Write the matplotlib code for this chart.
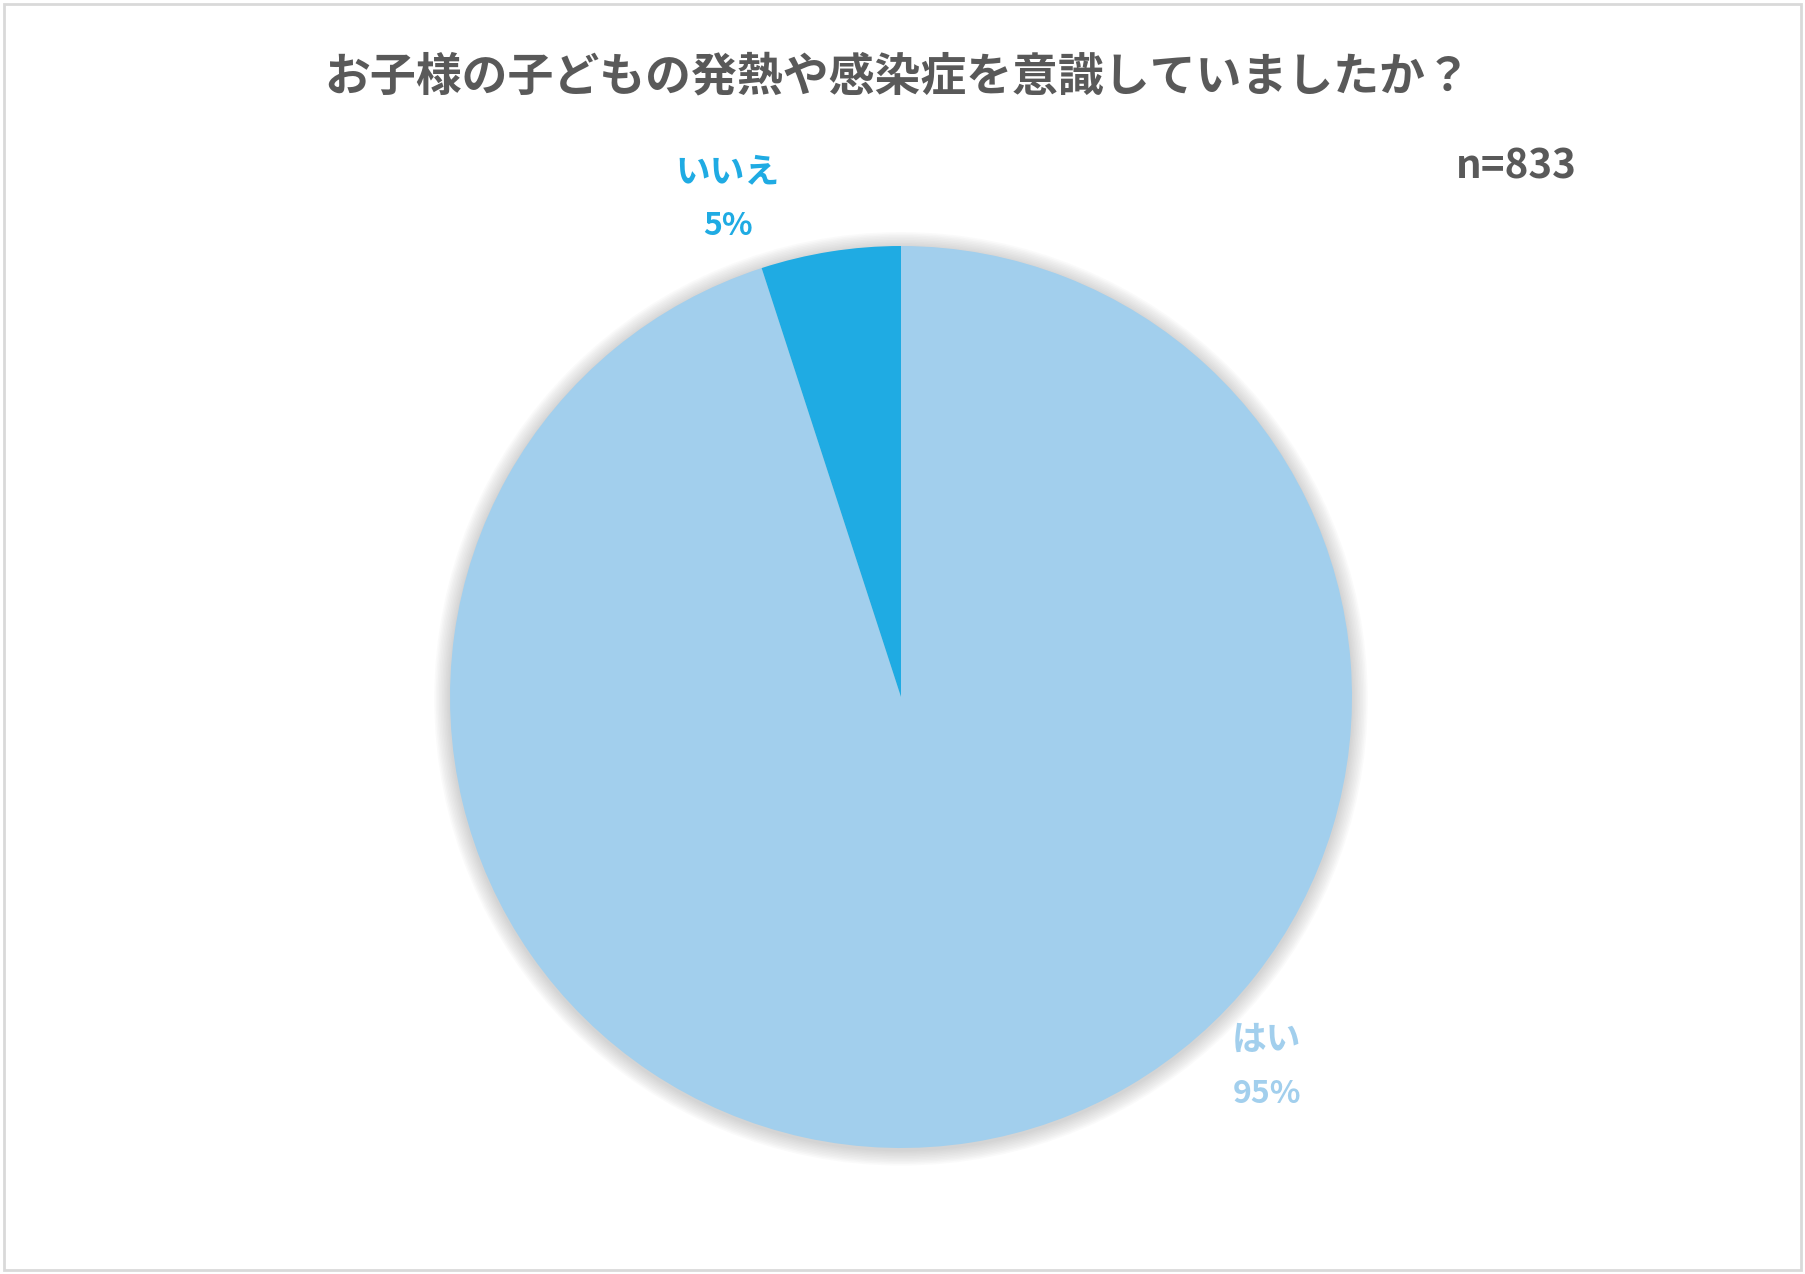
import matplotlib.pyplot as plt
from matplotlib.patches import Circle, Rectangle

plt.rcParams['font.family'] = ['Noto Sans CJK JP', 'DejaVu Sans']

title = 'お子様の子どもの発熱や感染症を意識していましたか？'
labels = ['はい', 'いいえ']
values = [95, 5]
colors = ['#A2CFED', '#1FABE3']
n_total = 833

fig = plt.figure(figsize=(18.05, 12.74), dpi=100)
# square axes, pie radius 1 -> ~451 px, centre at (901, 696) px
ax = fig.add_axes([450 / 1805, 126 / 1274, 902 / 1805, 902 / 1274])
ax.set_xlim(-1, 1)
ax.set_ylim(-1, 1)
ax.set_aspect('equal')
ax.axis('off')

# soft shadow behind the pie
for k in range(10, 0, -1):
    ax.add_patch(Circle((0, -0.004), 1 + k * 0.0035, color='#808080',
                        alpha=0.035, lw=0, zorder=0, clip_on=False))

wedges, _ = ax.pie(values, colors=colors, startangle=90, counterclock=False,
                   radius=1, wedgeprops=dict(linewidth=0), frame=False)
for w in wedges:
    w.set_clip_on(False)
ax.set_xlim(-1, 1)
ax.set_ylim(-1, 1)

# data labels (positions as in the original)
label_pos = [(0.811, -0.82), (-0.384, 1.104)]
for lab, v, c, (x, y) in zip(labels, values, colors, label_pos):
    ax.text(x, y + 0.06, lab, color=c, fontsize=25, fontweight='bold',
            ha='center', va='center', clip_on=False)
    ax.text(x, y - 0.06, f'{v}%', color=c, fontsize=23, fontweight='bold',
            ha='center', va='center', clip_on=False)

fig.text(898 / 1805, 1 - 77 / 1274, title, color='#595959', fontsize=33,
         fontweight='bold', ha='center', va='center')
fig.text(1516 / 1805, 1 - 167 / 1274, f'n={n_total}', color='#595959',
         fontsize=29, fontweight='bold', ha='center', va='center')

# chart border
fig.add_artist(Rectangle((0.002, 0.003), 0.996, 0.994, transform=fig.transFigure,
                         fill=False, edgecolor='#D9D9D9', lw=2))

fig.savefig('out.png', dpi=100)
